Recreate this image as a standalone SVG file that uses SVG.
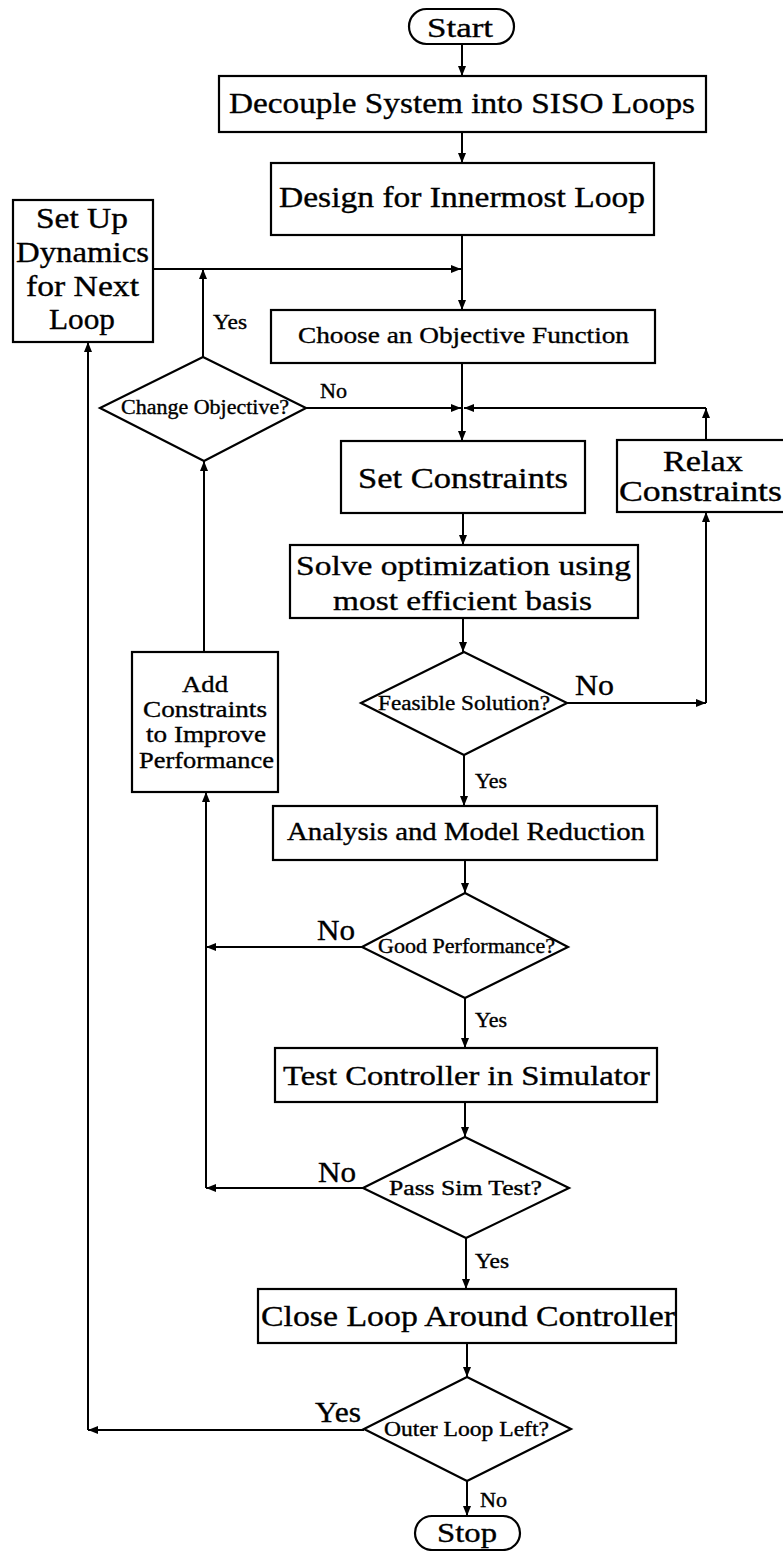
<svg xmlns="http://www.w3.org/2000/svg" width="783" height="1551" viewBox="0 0 783 1551">
  <defs>
    <marker id="arrow" markerUnits="userSpaceOnUse" markerWidth="12" markerHeight="10" refX="10" refY="4" orient="auto">
      <path d="M0,0 L10,4 L0,8 Z" fill="#000"/>
    </marker>
    <style>
      .shape { fill: #fff; stroke: #000; stroke-width: 2.2; }
      .edge { fill: none; stroke: #000; stroke-width: 2; marker-end: url(#arrow); }
      text { font-family: "Liberation Serif", "Times New Roman", serif; fill: #000; stroke: #000; stroke-width: 0.35; }
      .dia { font-size: 20px; }
      .lbl { font-size: 20px; }
      .lblbig { font-size: 29px; }
    </style>
  </defs>
  <rect width="783" height="1551" fill="#fff"/>

  <!-- connectors -->
  <g id="connectors">
    <line class="edge" x1="462" y1="44" x2="462" y2="76"/>
    <line class="edge" x1="462" y1="132" x2="462" y2="163"/>
    <line class="edge" x1="462" y1="235" x2="462" y2="310"/>
    <line class="edge" x1="153" y1="269" x2="461" y2="269"/>
    <line class="edge" x1="203" y1="357" x2="203" y2="269"/>
    <line class="edge" x1="462" y1="363" x2="462" y2="441"/>
    <line class="edge" x1="306" y1="408" x2="461" y2="408"/>
    <line class="edge" x1="706" y1="440" x2="706" y2="408"/>
    <line class="edge" x1="706" y1="408" x2="464" y2="408"/>
    <line class="edge" x1="463" y1="513" x2="463" y2="545"/>
    <line class="edge" x1="463" y1="618" x2="463" y2="652"/>
    <line class="edge" x1="567" y1="703" x2="706" y2="703"/>
    <line class="edge" x1="706" y1="703" x2="706" y2="512"/>
    <line class="edge" x1="204" y1="652" x2="204" y2="461"/>
    <line class="edge" x1="464" y1="755" x2="464" y2="806"/>
    <line class="edge" x1="465" y1="860" x2="465" y2="893"/>
    <line class="edge" x1="362" y1="947" x2="206" y2="947"/>
    <line class="edge" x1="465" y1="998" x2="465" y2="1048"/>
    <line class="edge" x1="465" y1="1102" x2="465" y2="1137"/>
    <line class="edge" x1="363" y1="1188" x2="206" y2="1188"/>
    <line class="edge" x1="206" y1="1188" x2="206" y2="792"/>
    <line class="edge" x1="466" y1="1238" x2="466" y2="1289"/>
    <line class="edge" x1="467" y1="1343" x2="467" y2="1377"/>
    <line class="edge" x1="364" y1="1430" x2="88" y2="1430"/>
    <line class="edge" x1="88" y1="1430" x2="88" y2="342"/>
    <line class="edge" x1="467" y1="1481" x2="467" y2="1516"/>

    <!-- branch labels -->
    <text class="lbl" x="213" y="329" textLength="34" lengthAdjust="spacingAndGlyphs">Yes</text>
    <text class="lbl" x="320" y="398" textLength="27" lengthAdjust="spacingAndGlyphs">No</text>
    <text class="lblbig" x="575" y="695" textLength="39" lengthAdjust="spacingAndGlyphs">No</text>
    <text class="lbl" x="475" y="788" textLength="32" lengthAdjust="spacingAndGlyphs">Yes</text>
    <text class="lblbig" x="317" y="940" textLength="38" lengthAdjust="spacingAndGlyphs">No</text>
    <text class="lbl" x="475" y="1027" textLength="32" lengthAdjust="spacingAndGlyphs">Yes</text>
    <text class="lblbig" x="318" y="1182" textLength="38" lengthAdjust="spacingAndGlyphs">No</text>
    <text class="lbl" x="475" y="1268" textLength="34" lengthAdjust="spacingAndGlyphs">Yes</text>
    <text class="lblbig" x="315" y="1422" textLength="46" lengthAdjust="spacingAndGlyphs">Yes</text>
    <text class="lbl" x="480" y="1507" textLength="27" lengthAdjust="spacingAndGlyphs">No</text>
  </g>

  <g id="start">
    <rect class="shape" x="409" y="9" width="105" height="35" rx="17.5"/>
    <text font-size="28" x="427" y="37" textLength="66" lengthAdjust="spacingAndGlyphs">Start</text>
  </g>

  <g id="decouple">
    <rect class="shape" x="219" y="76" width="487" height="56"/>
    <text font-size="30" x="229" y="113" textLength="466" lengthAdjust="spacingAndGlyphs">Decouple System into SISO Loops</text>
  </g>

  <g id="design">
    <rect class="shape" x="271" y="163" width="383" height="72"/>
    <text font-size="29" x="279" y="207" textLength="366" lengthAdjust="spacingAndGlyphs">Design for Innermost Loop</text>
  </g>

  <g id="setup">
    <rect class="shape" x="13" y="200" width="140" height="142"/>
    <text font-size="29" x="36" y="228" textLength="92" lengthAdjust="spacingAndGlyphs">Set Up</text>
    <text font-size="29" x="16" y="262" textLength="133" lengthAdjust="spacingAndGlyphs">Dynamics</text>
    <text font-size="29" x="26" y="296" textLength="113" lengthAdjust="spacingAndGlyphs">for Next</text>
    <text font-size="29" x="49" y="329" textLength="66" lengthAdjust="spacingAndGlyphs">Loop</text>
  </g>

  <g id="choose">
    <rect class="shape" x="271" y="310" width="384" height="53"/>
    <text font-size="24" x="298" y="343" textLength="331" lengthAdjust="spacingAndGlyphs">Choose an Objective Function</text>
  </g>

  <g id="change">
    <polygon class="shape" points="203,357 306,408 204,461 100,408"/>
    <text class="dia" x="121" y="414" textLength="168" lengthAdjust="spacingAndGlyphs">Change Objective?</text>
  </g>

  <g id="setconstraints">
    <rect class="shape" x="341" y="441" width="244" height="72"/>
    <text font-size="29" x="358" y="488" textLength="210" lengthAdjust="spacingAndGlyphs">Set Constraints</text>
  </g>

  <g id="relax">
    <rect class="shape" x="617" y="440" width="175" height="72"/>
    <text font-size="29" x="663" y="471" textLength="80" lengthAdjust="spacingAndGlyphs">Relax</text>
    <text font-size="29" x="619" y="501" textLength="163" lengthAdjust="spacingAndGlyphs">Constraints</text>
  </g>

  <g id="solve">
    <rect class="shape" x="290" y="545" width="348" height="73"/>
    <text font-size="28" x="296" y="575" textLength="335" lengthAdjust="spacingAndGlyphs">Solve optimization using</text>
    <text font-size="28" x="333" y="610" textLength="259" lengthAdjust="spacingAndGlyphs">most efficient basis</text>
  </g>

  <g id="feasible">
    <polygon class="shape" points="464,652 567,703 464,755 361,703"/>
    <text class="dia" x="378" y="710" textLength="172" lengthAdjust="spacingAndGlyphs">Feasible Solution?</text>
  </g>

  <g id="addconstraints">
    <rect class="shape" x="132" y="652" width="146" height="140"/>
    <text font-size="24" x="182" y="692" textLength="46" lengthAdjust="spacingAndGlyphs">Add</text>
    <text font-size="24" x="143" y="717" textLength="124" lengthAdjust="spacingAndGlyphs">Constraints</text>
    <text font-size="24" x="146" y="742" textLength="120" lengthAdjust="spacingAndGlyphs">to Improve</text>
    <text font-size="24" x="139" y="768" textLength="135" lengthAdjust="spacingAndGlyphs">Performance</text>
  </g>

  <g id="analysis">
    <rect class="shape" x="273" y="806" width="384" height="54"/>
    <text font-size="25" x="287" y="840" textLength="358" lengthAdjust="spacingAndGlyphs">Analysis and Model Reduction</text>
  </g>

  <g id="good">
    <polygon class="shape" points="465,893 568,947 465,998 362,947"/>
    <text class="dia" x="378" y="953" textLength="177" lengthAdjust="spacingAndGlyphs">Good Performance?</text>
  </g>

  <g id="test">
    <rect class="shape" x="275" y="1048" width="382" height="54"/>
    <text font-size="27" x="283" y="1085" textLength="367" lengthAdjust="spacingAndGlyphs">Test Controller in Simulator</text>
  </g>

  <g id="pass">
    <polygon class="shape" points="465,1137 569,1188 466,1238 363,1188"/>
    <text class="dia" x="389" y="1195" textLength="153" lengthAdjust="spacingAndGlyphs">Pass Sim Test?</text>
  </g>

  <g id="close">
    <rect class="shape" x="258" y="1289" width="418" height="54"/>
    <text font-size="30" x="261" y="1326" textLength="414" lengthAdjust="spacingAndGlyphs">Close Loop Around Controller</text>
  </g>

  <g id="outer">
    <polygon class="shape" points="467,1377 571,1429 467,1481 364,1429"/>
    <text class="dia" x="384" y="1436" textLength="165" lengthAdjust="spacingAndGlyphs">Outer Loop Left?</text>
  </g>

  <g id="stop">
    <rect class="shape" x="415" y="1516" width="105" height="34" rx="17"/>
    <text font-size="28" x="437" y="1542" textLength="60" lengthAdjust="spacingAndGlyphs">Stop</text>
  </g>
</svg>
